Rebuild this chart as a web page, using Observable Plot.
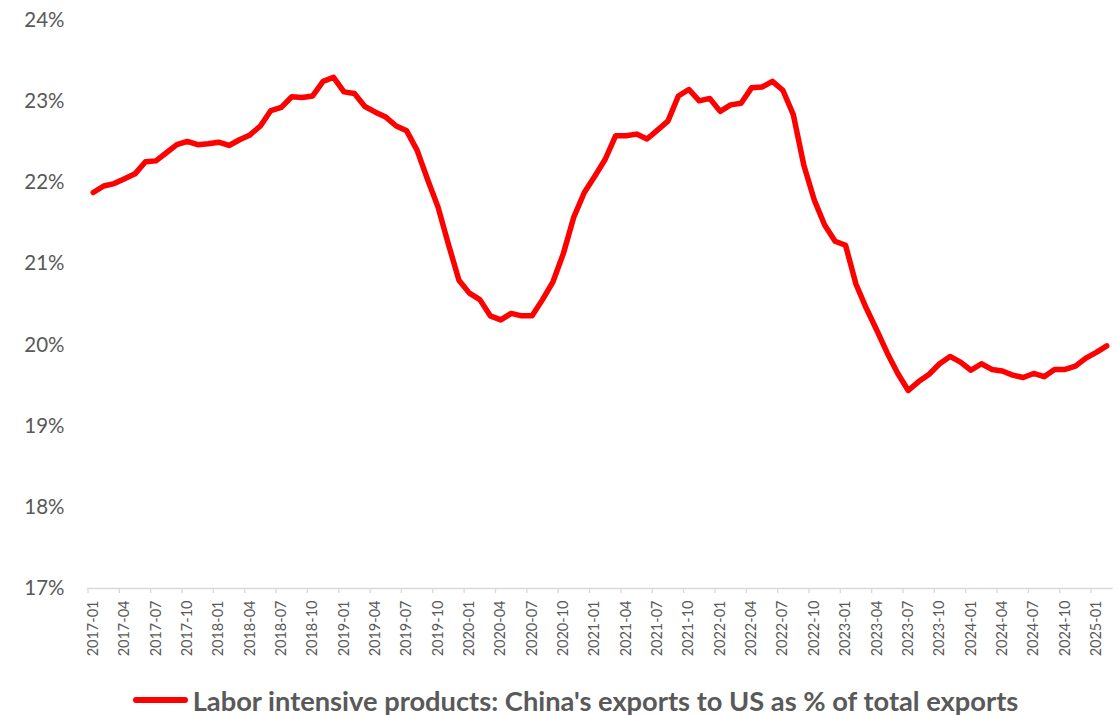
<!DOCTYPE html>
<html>
<head>
<meta charset="utf-8">
<script src="https://cdn.jsdelivr.net/npm/d3@7"></script>
<script src="https://cdn.jsdelivr.net/npm/@observablehq/plot@0.6"></script>
<style>
  html, body { margin: 0; padding: 0; background: #fff; }
  body { width: 1119px; height: 715px; overflow: hidden; position: relative; font-family: Lato, sans-serif; }
  #legend { position: absolute; left: 132.7px; display: flex; align-items: center; white-space: nowrap; }
  #legend .swatch { width: 55.6px; height: 6px; background: #ff0000; border-radius: 3px; margin-right: 4.4px; }
  #legend .label { font-family: Lato, sans-serif; font-weight: bold; color: #595959; line-height: 1; }
</style>
</head>
<body>
<div id="chart"></div>
<div id="legend"><span class="swatch"></span><span class="label">Labor intensive products: China's exports to US as % of total exports</span></div>
<script>
// Categories: monthly, 2017-01 to 2025-02
const categories = d3.utcMonth.range(new Date(Date.UTC(2017, 0, 1)), new Date(Date.UTC(2025, 2, 1))).map(d3.utcFormat("%Y-%m"));

// Labor intensive products: China's exports to US as % of total exports
const values = [
  21.88, 21.96, 21.99, 22.05, 22.11, 22.26, 22.27, 22.37, 22.47, 22.51, 22.47, 22.48,
  22.50, 22.46, 22.53, 22.59, 22.70, 22.89, 22.93, 23.06, 23.05, 23.07, 23.25, 23.30,
  23.12, 23.10, 22.94, 22.87, 22.81, 22.70, 22.64, 22.40, 22.04, 21.70, 21.24, 20.80,
  20.64, 20.56, 20.36, 20.31, 20.39, 20.36, 20.36, 20.56, 20.78, 21.13, 21.58, 21.88,
  22.08, 22.29, 22.58, 22.58, 22.60, 22.54, 22.65, 22.76, 23.07, 23.15, 23.01, 23.04,
  22.88, 22.96, 22.98, 23.17, 23.18, 23.25, 23.14, 22.84, 22.22, 21.79, 21.48, 21.28,
  21.23, 20.75, 20.45, 20.18, 19.90, 19.65, 19.44, 19.55, 19.64, 19.77, 19.86, 19.79,
  19.69, 19.77, 19.70, 19.68, 19.63, 19.60, 19.65, 19.61, 19.70, 19.70, 19.74, 19.84,
  19.91, 19.99
];

const yTicks = [17, 18, 19, 20, 21, 22, 23, 24];
const seriesName = "Labor intensive products: China's exports to US as % of total exports";

const data = values.map((v, i) => ({i, month: categories[i], v}));
const labelTicks = categories.map((c, i) => i).filter(i => i % 3 === 0);
const boundaryTicks = labelTicks.map(i => i - 0.5);

const chart = Plot.plot({
  width: 1119,
  height: 680,
  marginTop: 20,
  marginBottom: 92,
  marginLeft: 87.5,
  marginRight: 7.5,
  style: {fontFamily: "Lato, sans-serif", color: "#595959", background: "#fff"},
  x: {type: "linear", domain: [-0.5, categories.length - 0.5]},
  y: {domain: [17, 24]},
  marks: [
    Plot.frame({anchor: "bottom", stroke: "#d9d9d9", strokeWidth: 1.3}),
    Plot.axisX(boundaryTicks, {tickSize: 5, stroke: "#d9d9d9", strokeWidth: 1.3, tickFormat: () => "", label: null}),
    Plot.axisX(labelTicks, {tickSize: 0, tickPadding: 12, tickRotate: -90, tickFormat: i => categories[i], fontSize: 14.5, fill: "#595959", label: null, style: {letterSpacing: "1.1px"}}),
    Plot.axisY(yTicks, {tickSize: 0, tickPadding: 23.5, tickFormat: d => d + "%", fontSize: 20.5, fill: "#595959", label: null}),
    Plot.lineY(data, {x: "i", y: "v", stroke: "#ff0000", strokeWidth: 5.5, strokeLinejoin: "round", strokeLinecap: "round"})
  ]
});
document.getElementById("chart").appendChild(chart);

// Legend sizing: fit text width to reference (~826px); kept just inside the bottom edge
const label = document.querySelector("#legend .label");
label.textContent = seriesName;
label.style.fontSize = "24px";
const w = label.getBoundingClientRect().width;
const fs = 24 * 826 / w;
label.style.fontSize = fs + "px";
const legend = document.getElementById("legend");
legend.style.top = (715 - 1.0 * fs - 1) + "px";
</script>
</body>
</html>
